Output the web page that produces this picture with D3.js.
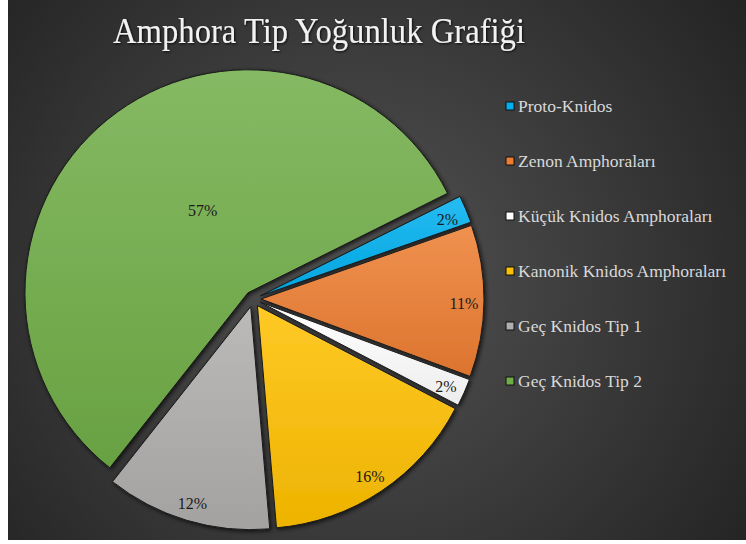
<!DOCTYPE html>
<html>
<head>
<meta charset="utf-8">
<script src="https://cdn.jsdelivr.net/npm/d3@7"></script>
<style>
  body { margin: 0; background: #ffffff; }
  svg { display: block; }
  text { font-family: 'Liberation Serif', 'DejaVu Serif', 'Times New Roman', serif; }
</style>
</head>
<body>
<svg id="svg1" width="746" height="544"></svg>
<script>
// chart data
var categories = ['Proto-Knidos', 'Zenon Amphoraları', 'Küçük Knidos Amphoraları',
                  'Kanonik Knidos Amphoraları', 'Geç Knidos Tip 1', 'Geç Knidos Tip 2'];
var shares = [2, 11, 2, 16, 12, 57];
var colors = ['#00b0f0', '#ed7d31', '#ffffff', '#ffc000', '#b0adad', '#70ad47'];
var title = 'Amphora Tip Yoğunluk Grafiği';

var width = 746;
var height = 544;

var svg = d3.select('svg');
var defs = svg.append('defs');

// dark radial background of the chart area
var bg = defs.append('radialGradient')
    .attr('id', 'bgGrad')
    .attr('gradientUnits', 'userSpaceOnUse')
    .attr('cx', 360).attr('cy', 280).attr('r', 470);
bg.append('stop').attr('offset', '0%').attr('stop-color', '#535353');
bg.append('stop').attr('offset', '100%').attr('stop-color', '#242424');

svg.append('rect')
    .attr('x', 8).attr('y', 0)
    .attr('width', width - 8).attr('height', 540)
    .attr('fill', 'url(#bgGrad)');

// soft shadow under the slices
var shadow = defs.append('filter')
    .attr('id', 'shadow')
    .attr('x', '-20%').attr('y', '-20%')
    .attr('width', '140%').attr('height', '140%');
shadow.append('feDropShadow')
    .attr('dx', 1.5).attr('dy', 1.5)
    .attr('stdDeviation', 2)
    .attr('flood-color', '#000')
    .attr('flood-opacity', 0.7);

var textShadow = defs.append('filter').attr('id', 'textShadow');
textShadow.append('feDropShadow')
    .attr('dx', 1).attr('dy', 1)
    .attr('stdDeviation', 0.8)
    .attr('flood-color', '#000')
    .attr('flood-opacity', 0.8);

// vertical gradient for each slice colour, lighter on top
colors.forEach(function(c, i){
    var g = defs.append('linearGradient')
        .attr('id', 'slice' + i)
        .attr('x1', 0).attr('y1', 0).attr('x2', 0).attr('y2', 1);
    g.append('stop').attr('offset', '0%').attr('stop-color', d3.interpolateRgb(c, '#fff')(0.15));
    g.append('stop').attr('offset', '100%').attr('stop-color', d3.interpolateRgb(c, '#000')(0.07));
});

// title
svg.append('text')
    .attr('x', 319)
    .attr('y', 43)
    .attr('text-anchor', 'middle')
    .attr('textLength', 412)
    .attr('lengthAdjust', 'spacingAndGlyphs')
    .style('font-size', '36px')
    .attr('fill', '#f2f2f2')
    .attr('filter', 'url(#textShadow)')
    .text(title);

// pie
var cx = 253, cy = 299;
var radius = 223;
var explode = 8;

var pie = d3.pie()
    .sort(null)
    .startAngle(63.5 * Math.PI / 180)
    .endAngle((63.5 + 360) * Math.PI / 180);

var arc = d3.arc()
    .innerRadius(0)
    .outerRadius(radius);

var total = d3.sum(shares);
var arcs = pie(shares);

var pieG = svg.append('g')
    .attr('transform', 'translate(' + cx + ',' + cy + ')');

var slices = pieG.selectAll('g.slice')
    .data(arcs)
    .enter()
    .append('g')
    .attr('class', 'slice')
    .attr('transform', function(d){
        var mid = (d.startAngle + d.endAngle) / 2;
        return 'translate(' + (explode * Math.sin(mid)) + ',' + (-explode * Math.cos(mid)) + ')';
    });

slices.append('path')
    .attr('d', arc)
    .attr('fill', function(d, i){ return 'url(#slice' + i + ')'; })
    .attr('stroke', '#1a1a1a')
    .attr('stroke-width', 1)
    .attr('filter', 'url(#shadow)');

// percentage labels; the big slice gets its label nearer the centre
function labelPos(d){
    var big = d.value / total > 0.5;
    // excel's best fit puts the big label a bit clockwise of the bisector
    var mid = (d.startAngle + d.endAngle) / 2 + (big ? 0.19 : 0);
    var r = big ? radius * 0.43 : radius * 0.91;
    return [r * Math.sin(mid), -r * Math.cos(mid)];
}

slices.append('text')
    .attr('x', function(d){ return labelPos(d)[0]; })
    .attr('y', function(d){ return labelPos(d)[1]; })
    .attr('dy', '0.5em')
    .attr('text-anchor', 'middle')
    .style('font-size', '16px')
    .attr('fill', '#1a1a1a')
    .text(function(d){ return Math.round(d.value / total * 100) + '%'; });

// legend
var legend = svg.selectAll('g.legend')
    .data(categories)
    .enter()
    .append('g')
    .attr('class', 'legend')
    .attr('transform', function(d, i){ return 'translate(506,' + (106 + i * 55) + ')'; });

legend.append('rect')
    .attr('x', 0).attr('y', -4)
    .attr('width', 8).attr('height', 8)
    .attr('fill', function(d, i){ return colors[i]; })
    .attr('stroke', '#111')
    .attr('stroke-width', 1);

legend.append('text')
    .attr('x', 12)
    .attr('y', 0)
    .attr('dy', '0.35em')
    .style('font-size', '17.5px')
    .attr('fill', '#d9d9d9')
    .text(function(d){ return d; });
</script>
</body>
</html>
